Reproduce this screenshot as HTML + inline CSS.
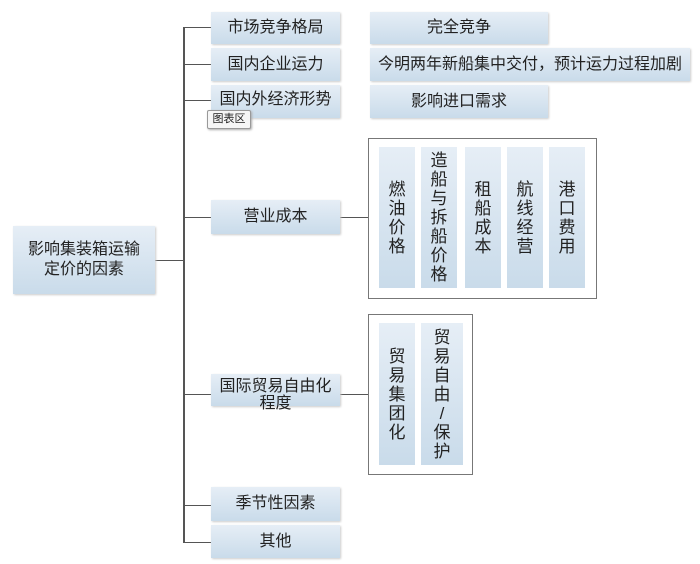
<!DOCTYPE html><html><head><meta charset="utf-8"><style>
body{margin:0;width:700px;height:564px;background:#fff;position:relative;overflow:hidden;font-family:"Liberation Sans","Noto Sans CJK SC",sans-serif;color:#222}
.b{position:absolute;background:linear-gradient(#e6eef6,#c9dbea);display:flex;align-items:center;justify-content:center;text-align:center;font-size:16px;line-height:18px;box-shadow:1px 1px 2px #ccc}
.v{position:absolute;background:linear-gradient(#e6eef6,#c9dbea);display:flex;align-items:center;justify-content:center;font-size:17px;line-height:19px;width:1em;text-align:center}
.l{position:absolute;background:#555}
.o{position:absolute;border:1.5px solid #777;background:#fff}
</style></head><body>
<div class="l" style="left:183px;top:27px;width:1.5px;height:516px"></div>
<div class="l" style="left:155px;top:260px;width:29px;height:1px"></div>
<div class="l" style="left:183px;top:27px;width:28px;height:1px"></div>
<div class="l" style="left:183px;top:64px;width:28px;height:1px"></div>
<div class="l" style="left:183px;top:100px;width:28px;height:1px"></div>
<div class="l" style="left:183px;top:217px;width:28px;height:1px"></div>
<div class="l" style="left:183px;top:394px;width:28px;height:1px"></div>
<div class="l" style="left:183px;top:505px;width:28px;height:1px"></div>
<div class="l" style="left:183px;top:542px;width:28px;height:1px"></div>
<div class="l" style="left:340px;top:217px;width:28px;height:1px"></div>
<div class="l" style="left:340px;top:394px;width:28px;height:1px"></div>
<div class="b" style="left:13px;top:226px;width:142px;height:68px;font-size:16px;line-height:20px">影响集装箱运输<br>定价的因素</div>
<div class="b" style="left:211px;top:12px;width:129px;height:32px">市场竞争格局</div>
<div class="b" style="left:211px;top:48px;width:129px;height:33px">国内企业运力</div>
<div class="b" style="left:211px;top:85px;width:129px;height:33px;align-items:flex-start;line-height:30px">国内外经济形势</div>
<div class="b" style="left:211px;top:200px;width:129px;height:34px">营业成本</div>
<div class="b" style="left:211px;top:378px;width:129px;height:32px;align-items:flex-start;line-height:17px;margin-top:-4px;padding-top:4px;height:28px">国际贸易自由化<br>程度</div>
<div class="b" style="left:211px;top:487px;width:129px;height:34px">季节性因素</div>
<div class="b" style="left:211px;top:525px;width:129px;height:33px">其他</div>
<div class="b" style="left:370px;top:12px;width:178px;height:32px">完全竞争</div>
<div class="b" style="left:370px;top:48px;width:320px;height:33px">今明两年新船集中交付，预计运力过程加剧</div>
<div class="b" style="left:370px;top:85px;width:178px;height:33px">影响进口需求</div>
<div style="position:absolute;left:207px;top:110px;width:42px;height:17px;border:1px solid #999;border-radius:2px;background:#f6f6f6;font-size:11px;line-height:17px;text-align:center;box-shadow:1px 1px 2px #aaa">图表区</div>
<div class="o" style="left:368px;top:138px;width:227px;height:159px"></div>
<div class="v" style="left:379px;top:147px;width:36px;height:141px">燃<br>油<br>价<br>格</div>
<div class="v" style="left:421px;top:147px;width:36px;height:141px">造<br>船<br>与<br>拆<br>船<br>价<br>格</div>
<div class="v" style="left:465px;top:147px;width:36px;height:141px">租<br>船<br>成<br>本</div>
<div class="v" style="left:507px;top:147px;width:36px;height:141px">航<br>线<br>经<br>营</div>
<div class="v" style="left:549px;top:147px;width:36px;height:141px">港<br>口<br>费<br>用</div>
<div class="o" style="left:368px;top:314px;width:103px;height:159px"></div>
<div class="v" style="left:379px;top:323px;width:36px;height:142px">贸<br>易<br>集<br>团<br>化</div>
<div class="v" style="left:421px;top:323px;width:42px;height:142px">贸<br>易<br>自<br>由<br>/<br>保<br>护</div>
</body></html>
